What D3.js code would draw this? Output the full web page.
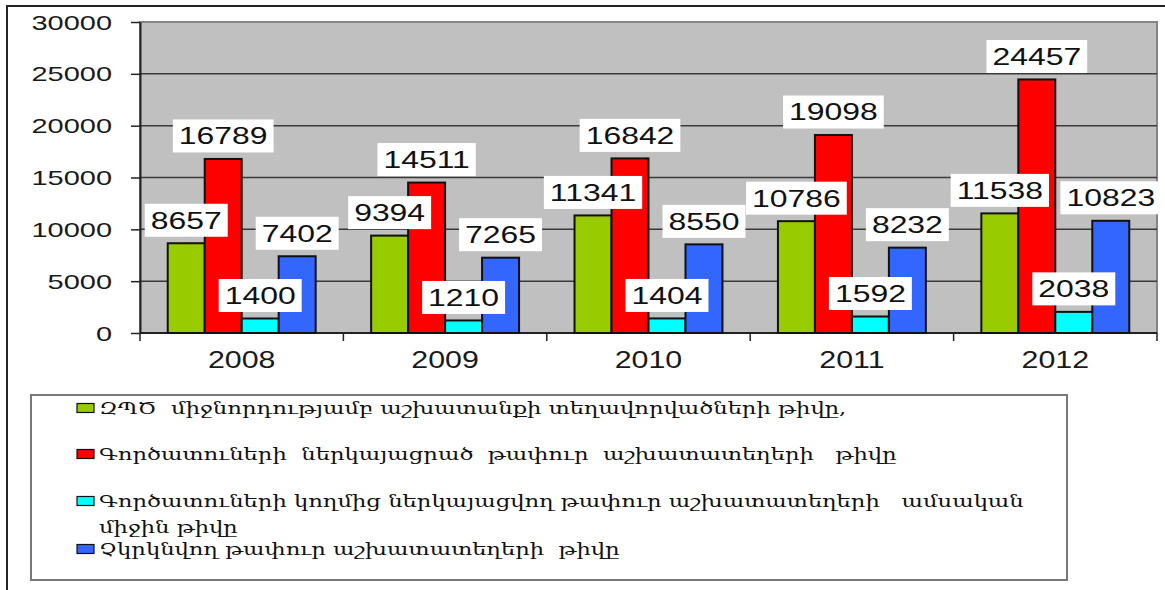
<!DOCTYPE html>
<html>
<head>
<meta charset="utf-8">
<script src="https://cdn.jsdelivr.net/npm/d3@7/dist/d3.min.js"></script>
<style>
  body { margin: 0; background: #fff; }
  svg { display: block; }
</style>
</head>
<body>
<svg id="chart" width="1165" height="590"></svg>
<script>
const years = ["2008", "2009", "2010", "2011", "2012"];
const seriesKeys = ["placed", "offered", "monthly", "unique"];
const placed = [8657, 9394, 11341, 10786, 11538];
const offered = [16789, 14511, 16842, 19098, 24457];
const monthly = [1400, 1210, 1404, 1592, 2038];
const unique = [7402, 7265, 8550, 8232, 10823];
const yTicks = [0, 5000, 10000, 15000, 20000, 25000, 30000];
const legendLines = [
  ["ԶՊԾ  միջնորդությամբ աշխատանքի տեղավորվածների թիվը,"],
  ["Գործատուների  ներկայացրած  թափուր  աշխատատեղերի   թիվը"],
  ["Գործատուների կողմից ներկայացվող թափուր աշխատատեղերի   ամսական", "միջին թիվը"],
  ["Չկրկնվող թափուր աշխատատեղերի  թիվը"]
];
const seriesColors = ["#99cc00", "#ff0000", "#00ffff", "#3366ff"];

const values = [placed, offered, monthly, unique];
const svg = d3.select("#chart");

// plot box
const plotL = 140, plotR = 1157, plotT = 22, plotB = 333;

const x0 = d3.scaleBand().domain(years).range([plotL, plotR]);
const x1 = d3.scaleBand().domain(seriesKeys).range([0, x0.bandwidth()]).paddingOuter(0.75);
const y = d3.scaleLinear().domain([0, 30000]).range([plotB, plotT]);
const color = d3.scaleOrdinal().domain(seriesKeys).range(seriesColors);

// outer frame (only the top and left edges are in view)
svg.append("path")
  .attr("d", "M7,590 V6 H1165")
  .attr("fill", "none")
  .attr("stroke", "#222")
  .attr("stroke-width", 2);

svg.append("rect")
  .attr("x", plotL).attr("y", plotT)
  .attr("width", plotR - plotL).attr("height", plotB - plotT)
  .attr("fill", "#c0c0c0")
  .attr("stroke", "#858585")
  .attr("stroke-width", 2);

// gridlines
svg.append("g")
  .selectAll("line")
  .data(yTicks.filter(d => d > 0 && d < 30000))
  .join("line")
  .attr("x1", plotL).attr("x2", plotR)
  .attr("y1", d => y(d)).attr("y2", d => y(d))
  .attr("stroke", "#3a3a3a")
  .attr("stroke-width", 1.5);

// y axis
const yAxis = svg.append("g")
  .attr("transform", `translate(${plotL},0)`)
  .call(d3.axisLeft(y).tickValues(yTicks).tickFormat(d3.format("d")).tickSize(9).tickSizeOuter(0));
yAxis.select(".domain").attr("stroke", "#222").attr("stroke-width", 2);
yAxis.selectAll(".tick line").attr("stroke", "#222").attr("stroke-width", 1.5);
yAxis.selectAll(".tick text")
  .attr("x", 0).attr("dy", "0.35em")
  .attr("transform", "translate(-28,0) scale(1.45,1)")
  .style("font-family", "'Liberation Sans', Arial, sans-serif")
  .style("font-size", "20px")
  .attr("fill", "#1a1a1a");

// x axis
const xAxis = svg.append("g").attr("transform", `translate(0,${plotB})`);
xAxis.append("line")
  .attr("x1", plotL).attr("x2", plotR)
  .attr("stroke", "#222").attr("stroke-width", 2);
xAxis.selectAll(".sep")
  .data(years.map(d => x0(d)).concat([plotR]))
  .join("line")
  .attr("class", "sep")
  .attr("x1", d => d).attr("x2", d => d)
  .attr("y1", 0).attr("y2", 8)
  .attr("stroke", "#222").attr("stroke-width", 1.5);
xAxis.selectAll(".cat")
  .data(years)
  .join("text")
  .attr("class", "cat")
  .attr("text-anchor", "middle")
  .attr("dy", "0.35em")
  .attr("transform", d => `translate(${x0(d) + x0.bandwidth() / 2},27) scale(1.32,1)`)
  .style("font-family", "'Liberation Sans', Arial, sans-serif")
  .style("font-size", "23px")
  .attr("fill", "#1a1a1a")
  .text(d => d);

// bars
const bars = [];
years.forEach((yr, i) => {
  seriesKeys.forEach((k, j) => {
    bars.push({ year: yr, key: k, value: values[j][i] });
  });
});

svg.append("g")
  .selectAll("rect")
  .data(bars)
  .join("rect")
  .attr("x", d => x0(d.year) + x1(d.key))
  .attr("y", d => y(d.value))
  .attr("width", x1.bandwidth())
  .attr("height", d => y(0) - y(d.value))
  .attr("fill", d => color(d.key))
  .attr("stroke", "#111")
  .attr("stroke-width", 2);

// value labels, drawn after all bars
const labels = svg.append("g")
  .selectAll("g")
  .data(bars)
  .join("g")
  .attr("transform", d => `translate(${x0(d.year) + x1(d.key) + x1.bandwidth() / 2},${y(d.value) - 23})`);

labels.append("rect").attr("fill", "#fff");
labels.append("text")
  .attr("text-anchor", "middle")
  .attr("dy", "0.35em")
  .attr("transform", "scale(1.33,1)")
  .style("font-family", "'Liberation Sans', Arial, sans-serif")
  .style("font-size", "24px")
  .attr("fill", "#111")
  .text(d => d.value);
labels.each(function () {
  const g = d3.select(this);
  const w = g.select("text").node().getComputedTextLength() * 1.33 + 12;
  g.select("rect")
    .attr("x", -w / 2).attr("y", -16.5)
    .attr("width", w).attr("height", 33);
});

// legend
svg.append("rect")
  .attr("x", 31).attr("y", 395)
  .attr("width", 1067 - 31).attr("height", 580 - 395)
  .attr("fill", "#fff")
  .attr("stroke", "#777")
  .attr("stroke-width", 2);

const rowY = [408, 454, 501, 549];
const legend = svg.append("g");
const legendRows = legend.selectAll("g")
  .data(seriesKeys)
  .join("g")
  .attr("transform", (d, i) => `translate(77,${rowY[i]})`);

legendRows.append("rect")
  .attr("x", 0).attr("y", -4.5)
  .attr("width", 17).attr("height", 9)
  .attr("fill", d => color(d))
  .attr("stroke", "#111")
  .attr("stroke-width", 1.2);

const legendTexts = legendRows.append("text")
  .attr("transform", "translate(22,0)")
  .style("font-family", "'DejaVu Serif', 'DejaVu Sans', serif")
  .style("font-size", "17px")
  .style("white-space", "pre")
  .attr("fill", "#111");

legendTexts.each(function (d, i) {
  const lines = legendLines[i];
  const t = d3.select(this);
  lines.forEach((ln, li) => {
    t.append("tspan")
      .attr("x", 0)
      .attr("y", li === 0 ? 0 : 26)
      .attr("dy", "0.35em")
      .text(ln);
  });
});

// stretch legend text horizontally so that the second row spans its measured width
const refLen = legendTexts.filter((d, i) => i === 1).node().getComputedTextLength();
const k = (897 - 99) / refLen;
legendTexts.attr("transform", `translate(22,0) scale(${k},1)`);
</script>
</body>
</html>
